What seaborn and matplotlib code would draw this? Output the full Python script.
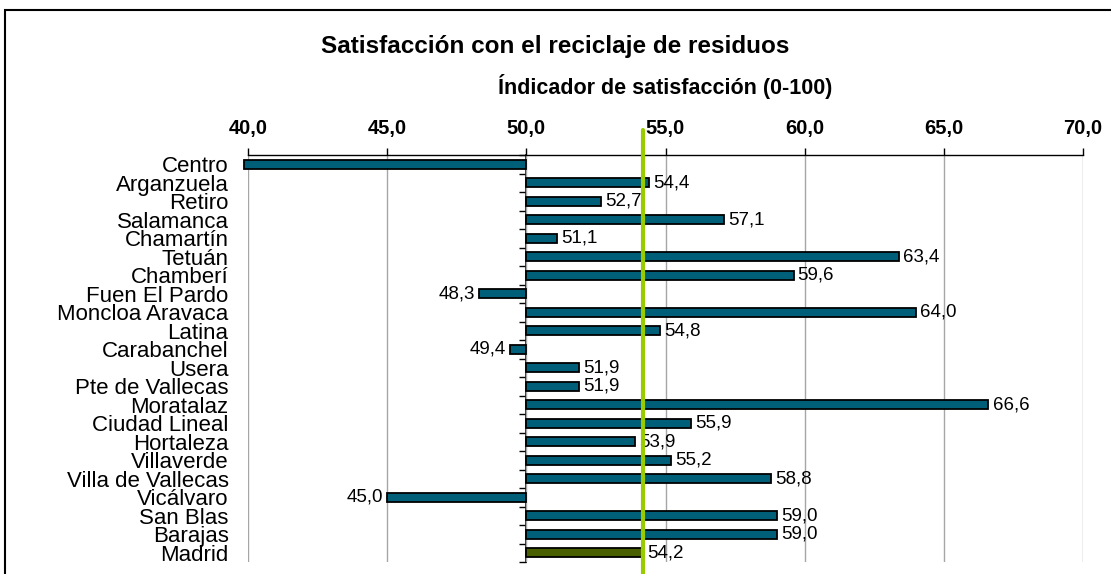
import numpy as np
import pandas as pd
import seaborn as sns
import matplotlib.pyplot as plt
from matplotlib.patches import Rectangle
from matplotlib.ticker import FuncFormatter

districts = ["Centro", "Arganzuela", "Retiro", "Salamanca", "Chamartín", "Tetuán",
             "Chamberí", "Fuen El Pardo", "Moncloa Aravaca", "Latina", "Carabanchel",
             "Usera", "Pte de Vallecas", "Moratalaz", "Ciudad Lineal", "Hortaleza",
             "Villaverde", "Villa de Vallecas", "Vicálvaro", "San Blas", "Barajas", "Madrid"]
scores = [39.85, 54.4, 52.7, 57.1, 51.1, 63.4, 59.6, 48.3, 64.0, 54.8, 49.4,
          51.9, 51.9, 66.6, 55.9, 53.9, 55.2, 58.8, 45.0, 59.0, 59.0, 54.2]
baseline = 50.0
madrid_score = scores[-1]

df = pd.DataFrame({"district": districts, "score": scores})
df["delta"] = df["score"] - baseline

bar_color = "#005F78"
total_color = "#4A6000"
palette = {d: (total_color if d == "Madrid" else bar_color) for d in districts}

sns.set_style("white")
plt.rcParams["font.family"] = ["Liberation Sans", "DejaVu Sans"]
plt.rcParams["text.color"] = "black"
plt.rcParams["axes.labelcolor"] = "black"
plt.rcParams["xtick.color"] = "black"
plt.rcParams["ytick.color"] = "black"

fig, ax = plt.subplots(figsize=(11.11, 5.74), dpi=100)
fig.subplots_adjust(left=248 / 1111, right=1083 / 1111, top=1 - 155 / 574, bottom=1 - 562 / 574)

sns.barplot(data=df, x="delta", y="district", hue="district", palette=palette,
            legend=False, errorbar=None, width=0.5, left=baseline,
            edgecolor="black", linewidth=1.3, saturation=1, ax=ax, zorder=3)
for p in ax.patches:
    p.set_clip_on(False)

ax.set_xlim(40, 70)
ax.set_xticks(np.arange(40, 71, 5))
ax.xaxis.set_major_formatter(FuncFormatter(lambda v, _: f"{v:.1f}".replace(".", ",")))
ax.xaxis.tick_top()
ax.xaxis.set_label_position("top")
ax.tick_params(axis="x", length=5, width=1, color="black", pad=7, labelsize=14.5)
for t in ax.get_xticklabels():
    t.set_fontweight("bold")
ax.set_xlabel("Índicador de satisfacción (0-100)", fontsize=15.5, fontweight="bold", labelpad=18)
ax.set_ylabel("")

ax.tick_params(axis="y", length=0, pad=14, labelsize=16)
ax.xaxis.grid(True, color="#A6A6A6", linewidth=1)
ax.set_axisbelow(True)

for side in ["left", "right", "bottom"]:
    ax.spines[side].set_visible(False)
ax.spines["top"].set_color("black")
ax.spines["top"].set_linewidth(1)

# category axis drawn at the 50 baseline, ticks between bars
sec = ax.secondary_yaxis((baseline - 40) / 30)
sec.set_yticks(np.arange(-0.5, len(districts)))
sec.tick_params(axis="y", length=5, width=1, labelleft=False, labelright=False, color="black")
sec.spines["left"].set_color("black")
sec.spines["left"].set_linewidth(1.2)

# value labels
for p, val in zip(ax.patches, scores):
    if val < 40:
        continue
    yc = p.get_y() + p.get_height() / 2
    txt = f"{val:.1f}".replace(".", ",")
    if val >= baseline:
        ax.annotate(txt, (val, yc), xytext=(3, 0), textcoords="offset points",
                    ha="left", va="center", fontsize=13.5, zorder=4)
    else:
        ax.annotate(txt, (val, yc), xytext=(-3, 0), textcoords="offset points",
                    ha="right", va="center", fontsize=13.5, zorder=4)

# Madrid average line
ax.axvline(madrid_score, ymin=-0.03, ymax=1.062, color="#99CC00", linewidth=3,
           clip_on=False, zorder=6)

fig.text(0.5, 1 - 47 / 574, "Satisfacción con el reciclaje de residuos",
         ha="center", va="center", fontsize=17.5, fontweight="bold")

fig.add_artist(Rectangle((5 / 1111, -0.1), 1.2, 1.1 - 10 / 574, transform=fig.transFigure,
                         fill=False, edgecolor="black", linewidth=1.5))

fig.savefig("out.png", dpi=100)
